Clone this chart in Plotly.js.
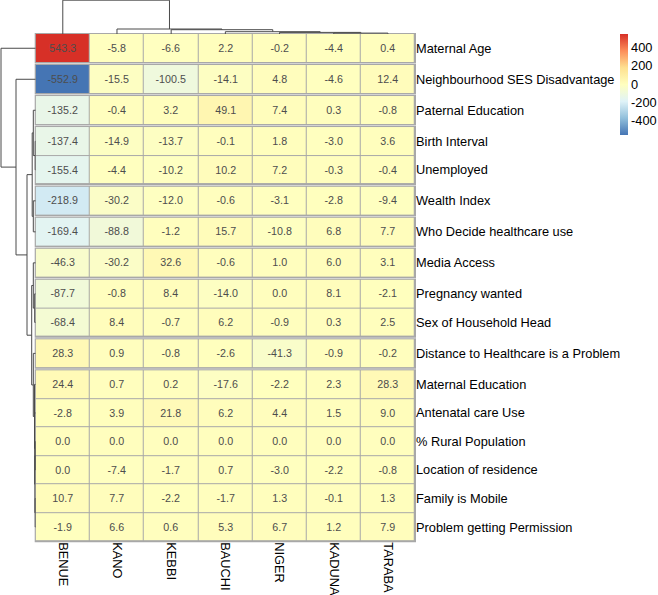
<!DOCTYPE html>
<html><head><meta charset="utf-8">
<script src="https://cdn.plot.ly/plotly-3.0.1.min.js"></script>
<style>html,body{margin:0;padding:0;background:#fff}#chart{width:658px;height:595px}</style>
</head><body><div id="chart"></div>
<script>
// ---------- data ----------
const colNames = ['BENUE','KANO','KEBBI','BAUCHI','NIGER','KADUNA','TARABA'];
const rowNames = ['Maternal Age','Neighbourhood SES Disadvantage','Paternal Education','Birth Interval',
  'Unemployed','Wealth Index','Who Decide healthcare use','Media Access','Pregnancy wanted',
  'Sex of Household Head','Distance to Healthcare is a Problem','Maternal Education','Antenatal care Use',
  '% Rural Population','Location of residence','Family is Mobile','Problem getting Permission'];
const BENUE  = [543.3,-552.9,-135.2,-137.4,-155.4,-218.9,-169.4,-46.3,-87.7,-68.4,28.3,24.4,-2.8,0.0,0.0,10.7,-1.9];
const KANO   = [-5.8,-15.5,-0.4,-14.9,-4.4,-30.2,-88.8,-30.2,-0.8,8.4,0.9,0.7,3.9,0.0,-7.4,7.7,6.6];
const KEBBI  = [-6.6,-100.5,3.2,-13.7,-10.2,-12.0,-1.2,32.6,8.4,-0.7,-0.8,0.2,21.8,0.0,-1.7,-2.2,0.6];
const BAUCHI = [2.2,-14.1,49.1,-0.1,10.2,-0.6,15.7,-0.6,-14.0,6.2,-2.6,-17.6,6.2,0.0,0.7,-1.7,5.3];
const NIGER  = [-0.2,4.8,7.4,1.8,7.2,-3.1,-10.8,1.0,0.0,-0.9,-41.3,-2.2,4.4,0.0,-3.0,1.3,6.7];
const KADUNA = [-4.4,-4.6,0.3,-3.0,-0.3,-2.8,6.8,6.0,8.1,0.3,-0.9,2.3,1.5,0.0,-2.2,-0.1,1.2];
const TARABA = [0.4,12.4,-0.8,3.6,-0.4,-9.4,7.7,3.1,-2.1,2.5,-0.2,28.3,9.0,0.0,-0.8,1.3,7.9];
const colorbarTicks = [-400,-200,0,200,400];

// row dendrogram (hclust style: negative = leaf row number, positive = earlier merge)
const rowMergeLeft   = [-14,-16,-4, 1,-9,-13,-12,-3,-6,-8,-11, 8,10,12,-2,-1];
const rowMergeRight  = [-15,-17,-5, 2,-10, 4,  6, 3,-7, 5,  7, 9,11,13,14,15];
const rowMergeHeight = [0.3,0.5,0.5,0.8,1.0,1.0,1.2,2.4,2.4,2.4,2.4,3.5,4.0,8.7,19.7,34.7];
const rowCutHeight = 1.8;
// column dendrogram
const colMergeLeft   = [-6,-5,-4,-3,-2,-1];
const colMergeRight  = [-7, 1, 2, 3, 4, 5];
const colMergeHeight = [0.9,1.6,2.3,4.3,5.0,33.8];

// ---------- geometry ----------
const W = 658, H = 595;
const heatLeft = 35.7, heatRight = 415, heatTop = 34, heatBottom = 541.3;
const gapRatio = 0.087;
const font = 'Liberation Sans, Arial, sans-serif';
const pal = ['#4575B4','#91BFDB','#E0F3F8','#FFFFBF','#FEE090','#FC8D59','#D73027'];
const colorscale = pal.map((c,i)=>[i/(pal.length-1), c]);
const cols = [BENUE,KANO,KEBBI,BAUCHI,NIGER,KADUNA,TARABA];
const nR = rowNames.length, nC = colNames.length;
const Z = rowNames.map((_,r)=>cols.map(c=>c[r]));
const allV = Z.flat();
const zmin = Math.min(...allV), zmax = Math.max(...allV);

// groups from cutting the row tree
const parent = rowNames.map((_,i)=>i);
function find(i){ while(parent[i]!==i) i=parent[i]; return i; }
const mem = [];
function members(id){ return id<0 ? [-id-1] : mem[id-1]; }
rowMergeLeft.forEach((l,i)=>{
  const m = members(l).concat(members(rowMergeRight[i]));
  mem.push(m);
  if(rowMergeHeight[i] < rowCutHeight){ m.forEach(x=>{ parent[find(x)] = find(m[0]); }); }
});
const groups = [];
for(let r=0;r<nR;r++){
  if(r===0 || find(r)!==find(r-1)) groups.push([]);
  groups[groups.length-1].push(r);
}
// unit positions
const totalUnits = nR + (groups.length-1)*gapRatio;
const k = (heatBottom-heatTop)/totalUnits;
const rowCenter = [];
let u = 0;
const groupUnits = groups.map((g,gi)=>{
  const u0 = u;
  g.forEach(r=>{ rowCenter[r] = u + 0.5; u += 1; });
  const u1 = u;
  u += gapRatio;
  return [u0,u1];
});
const yd = (u0,u1)=>[1-(heatTop+u1*k)/H, 1-(heatTop+u0*k)/H];

const data = [], shapes = [];
const layout = {
  width: W, height: H, margin:{l:0,r:0,t:0,b:0},
  paper_bgcolor:'#fff', plot_bgcolor:'rgba(0,0,0,0)', showlegend:false,
  font:{family:font, size:12.8, color:'#000'},
};
groups.forEach((g,gi)=>{
  const yid = gi===0 ? 'y' : 'y'+(gi+1);
  const ykey = gi===0 ? 'yaxis' : 'yaxis'+(gi+1);
  const z = g.map(r=>Z[r]);
  data.push({
    type:'heatmap', x: colNames.map((_,i)=>i), y: g.map((_,i)=>i), z: z,
    text: z.map(row=>row.map(v=>v.toFixed(1))), texttemplate:'%{text}',
    textfont:{size:10.7, color:'#4d4d4d', family:font},
    colorscale: colorscale, zmin: zmin, zmax: zmax, xgap:1, ygap:1,
    xaxis:'x', yaxis: yid, hoverinfo:'skip',
    showscale: gi===0,
    colorbar: {x: 620.2/W, xanchor:'left', y: 1-34/H, yanchor:'top', len:101, lenmode:'pixels',
      thickness:7.6, thicknessmode:'pixels', outlinewidth:0, xpad:0, ypad:0,
      tickvals: colorbarTicks, ticktext: colorbarTicks.map(v=>String(v)), ticks:'',
      tickfont:{size:12.8, color:'#000', family:font}}
  });
  layout[ykey] = {domain: yd(...groupUnits[gi]), anchor:'x', range:[g.length-0.5,-0.5],
    tickvals: g.map((_,i)=>i), ticktext: g.map(r=>rowNames[r]), side:'right',
    showgrid:false, zeroline:false, ticks:'', showline:false,
    tickfont:{size:12.8, color:'#000', family:font}};
  shapes.push({type:'rect', xref:'x domain', yref: yid+' domain', x0:0, x1:1, y0:0, y1:1,
    fillcolor:'#A8A8A8', line:{color:'#A8A8A8', width:2}, layer:'below'});
});
const lastY = groups.length===1 ? 'y' : 'y'+groups.length;
layout.xaxis = {domain:[heatLeft/W, heatRight/W], anchor:lastY, range:[-0.5,nC-0.5],
  tickvals: colNames.map((_,i)=>i), ticktext: colNames, tickangle:90, side:'bottom',
  showgrid:false, zeroline:false, ticks:'', tickfont:{size:12.8, color:'#000', family:font}};

// dendrograms
function dendro(left,right,height,leafPos){
  const pos=[], ht=[], P=[], Hh=[];
  const get = id => id<0 ? {p:leafPos[-id-1], h:0} : {p:pos[id-1], h:ht[id-1]};
  left.forEach((l,i)=>{
    const a=get(l), b=get(right[i]), h=height[i];
    P.push(a.p,a.p,b.p,b.p,null); Hh.push(a.h,h,h,b.h,null);
    pos.push((a.p+b.p)/2); ht.push(h);
  });
  return {P,Hh};
}
const nY = groups.length;
const rowAx = 'y'+(nY+1), colAx = 'y'+(nY+2);
const rd = dendro(rowMergeLeft,rowMergeRight,rowMergeHeight,rowCenter);
data.push({type:'scatter', mode:'lines', x: rd.Hh, y: rd.P, xaxis:'x2', yaxis:rowAx,
  line:{color:'#4a4a4a', width:1}, hoverinfo:'skip', connectgaps:false});
layout.xaxis2 = {domain:[0, heatLeft/W], range:[heatLeft, 0], anchor:rowAx, visible:false};
layout['yaxis'+(nY+1)] = {domain: yd(0,totalUnits), range:[totalUnits,0], anchor:'x2', visible:false};
const cd = dendro(colMergeLeft,colMergeRight,colMergeHeight,colNames.map((_,i)=>i));
data.push({type:'scatter', mode:'lines', x: cd.P, y: cd.Hh, xaxis:'x', yaxis:colAx,
  line:{color:'#4a4a4a', width:1}, hoverinfo:'skip', connectgaps:false});
layout['yaxis'+(nY+2)] = {domain:[1-heatTop/H, 1], range:[0, heatTop], anchor:'x', visible:false};
layout.shapes = shapes;

Plotly.newPlot('chart', data, layout, {displayModeBar:false, staticPlot:true});
</script>
</body></html>
